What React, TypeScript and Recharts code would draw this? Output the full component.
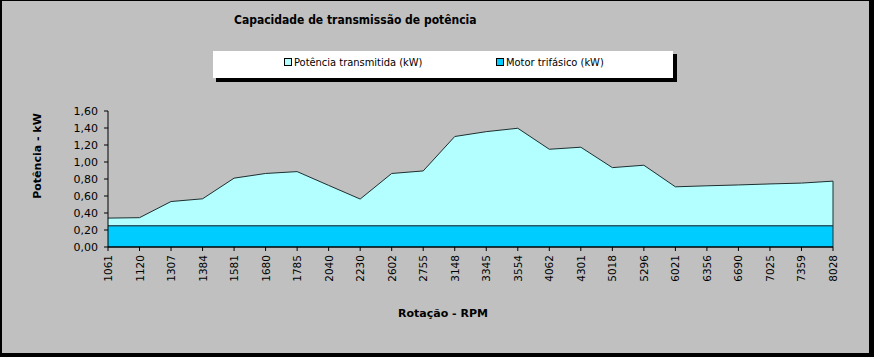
import React from "react";
import { AreaChart, Area, XAxis, YAxis, ReferenceLine } from "recharts";

// RPM categories (x axis)
const rpm = [
  "1061", "1120", "1307", "1384", "1581", "1680", "1785", "2040", "2230", "2602", "2755", "3148",
  "3345", "3554", "4062", "4301", "5018", "5296", "6021", "6356", "6690", "7025", "7359", "8028",
];

// transmitted power, kW
const potencia = [
  0.34, 0.345, 0.535, 0.567, 0.81, 0.865, 0.887, 0.725, 0.564, 0.865, 0.895, 1.3,
  1.357, 1.397, 1.15, 1.174, 0.934, 0.962, 0.708, 0.72, 0.73, 0.742, 0.752, 0.775,
];

// three-phase motor, kW
const motor = [
  0.25, 0.25, 0.25, 0.25, 0.25, 0.25, 0.25, 0.25, 0.25, 0.25, 0.25, 0.25,
  0.25, 0.25, 0.25, 0.25, 0.25, 0.25, 0.25, 0.25, 0.25, 0.25, 0.25, 0.25,
];

const yTicks = [0, 0.2, 0.4, 0.6, 0.8, 1.0, 1.2, 1.4, 1.6];

const data = rpm.map((r, i) => ({ rpm: r, potencia: potencia[i], motor: motor[i] }));

const FONT = "'DejaVu Sans', Verdana, sans-serif";
const CONDENSED = "'DejaVu Sans Condensed', 'DejaVu Sans', sans-serif";

const fmt = (v: number) => v.toFixed(2).replace(".", ",");

const XTick = (props: any) => {
  const { x, y, payload } = props;
  return (
    <text
      x={x}
      y={y}
      transform={`rotate(-90, ${x}, ${y})`}
      textAnchor="end"
      dominantBaseline="central"
      fontSize={10.5}
      fontFamily={FONT}
      fill="#000"
    >
      {payload.value}
    </text>
  );
};

const Swatch = ({ color }: { color: string }) => (
  <span
    style={{
      display: "inline-block",
      width: 6,
      height: 6,
      border: "1px solid #000",
      background: color,
      marginRight: 2,
      verticalAlign: "middle",
      position: "relative",
      top: -1,
    }}
  />
);

export default function App() {
  return (
    <div
      style={{
        position: "absolute",
        left: 0,
        top: 0,
        width: 874,
        height: 357,
        background: "#000",
        fontFamily: FONT,
      }}
    >
      <div
        style={{
          position: "absolute",
          left: 2,
          top: 1,
          width: 867,
          height: 352,
          background: "#c0c0c0",
        }}
      />
      <div
        style={{
          position: "absolute",
          left: 234,
          top: 13,
          fontSize: 12,
          fontWeight: "bold",
          fontFamily: CONDENSED,
          color: "#000",
          whiteSpace: "nowrap",
        }}
      >
        Capacidade de transmissão de potência
      </div>
      {/* legend box with shadow */}
      <div
        style={{
          position: "absolute",
          left: 216,
          top: 54,
          width: 461,
          height: 28,
          background: "#000",
        }}
      />
      <div
        style={{
          position: "absolute",
          left: 213,
          top: 51,
          width: 460,
          height: 27,
          background: "#fff",
          fontSize: 11,
          fontFamily: CONDENSED,
          color: "#000",
          whiteSpace: "nowrap",
        }}
      >
        <span style={{ position: "absolute", left: 71, top: 5 }}>
          <Swatch color="#b3ffff" />
          Potência transmitida (kW)
        </span>
        <span style={{ position: "absolute", left: 283, top: 5 }}>
          <Swatch color="#00ccff" />
          Motor trifásico (kW)
        </span>
      </div>
      <div
        style={{
          position: "absolute",
          left: 37,
          top: 156,
          transform: "translate(-50%, -50%) rotate(-90deg)",
          fontSize: 11,
          fontWeight: "bold",
          color: "#000",
          whiteSpace: "nowrap",
        }}
      >
        Potência - kW
      </div>
      <div
        style={{
          position: "absolute",
          left: 443,
          top: 313,
          transform: "translate(-50%, -50%)",
          fontSize: 11,
          fontWeight: "bold",
          color: "#000",
          whiteSpace: "nowrap",
        }}
      >
        Rotação - RPM
      </div>
      <div style={{ position: "absolute", left: 0, top: 0 }}>
        <AreaChart
          width={874}
          height={357}
          data={data}
          margin={{ top: 111, right: 41, bottom: 50, left: 48 }}
        >
          <XAxis
            dataKey="rpm"
            interval={0}
            tick={<XTick />}
            tickSize={4}
            tickMargin={4}
            height={60}
            stroke="#000"
            tickLine={{ stroke: "#000" }}
            axisLine={{ stroke: "#000" }}
            padding={{ left: 0, right: 0 }}
          />
          <YAxis
            domain={[0, 1.6]}
            ticks={yTicks}
            tickFormatter={fmt}
            width={60}
            tickSize={4}
            tickMargin={6}
            stroke="#000"
            tick={{ fontSize: 11, fontFamily: FONT, fill: "#000" }}
            interval={0}
          />
          <Area
            type="linear"
            dataKey="potencia"
            stroke="#1e2e2e"
            strokeWidth={1}
            fill="#b3ffff"
            fillOpacity={1}
            isAnimationActive={false}
          />
          <Area
            type="linear"
            dataKey="motor"
            stroke="#2a5a66"
            strokeWidth={1.3}
            fill="#00ccff"
            fillOpacity={1}
            isAnimationActive={false}
          />
          <ReferenceLine
            segment={[
              { x: rpm[rpm.length - 1], y: 0 },
              { x: rpm[rpm.length - 1], y: potencia[potencia.length - 1] },
            ]}
            stroke="#1e2e2e"
          />
          <ReferenceLine y={0} stroke="#000" />
        </AreaChart>
      </div>
    </div>
  );
}
